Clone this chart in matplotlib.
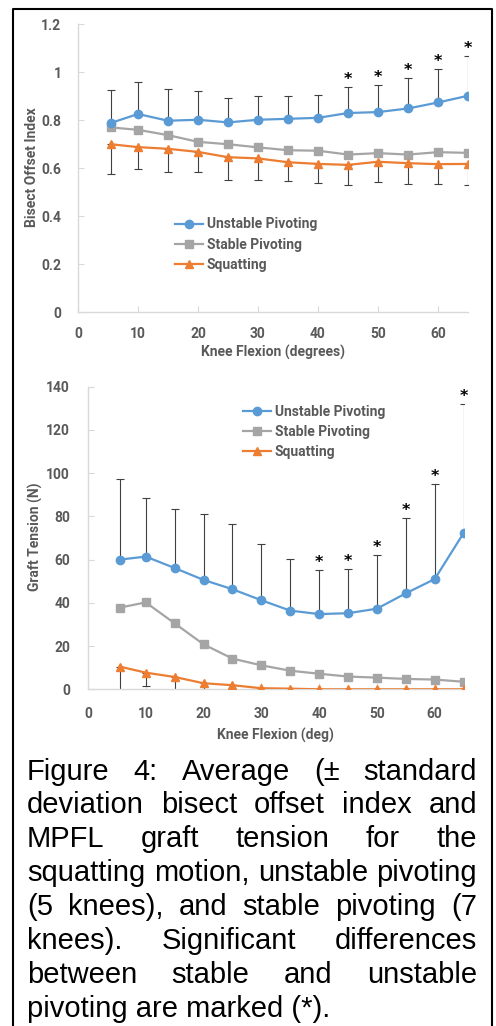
import numpy as np
import matplotlib
matplotlib.use("Agg")
import matplotlib.pyplot as plt

# knee flexion angles (deg)
flexion = [5.5, 10, 15, 20, 25, 30, 35, 40, 45, 50, 55, 60, 65]

# bisect offset index
bo_unstable = [0.788, 0.825, 0.797, 0.801, 0.790, 0.801, 0.805, 0.809, 0.829, 0.833, 0.848, 0.873, 0.901]
bo_unstable_hi = [0.923, 0.957, 0.930, 0.919, 0.890, 0.901, 0.898, 0.905, 0.939, 0.947, 0.976, 1.011, 1.068]
bo_stable = [0.769, 0.759, 0.737, 0.709, 0.699, 0.686, 0.674, 0.672, 0.656, 0.662, 0.656, 0.666, 0.663]
bo_squat = [0.699, 0.687, 0.680, 0.667, 0.645, 0.640, 0.624, 0.617, 0.613, 0.626, 0.620, 0.616, 0.617]
bo_squat_lo = [0.573, 0.597, 0.584, 0.584, 0.548, 0.548, 0.544, 0.537, 0.528, 0.542, 0.535, 0.533, 0.528]
bo_signif = [45, 50, 55, 60, 65]

# graft tension (N)
gt_unstable = [60.0, 61.4, 56.1, 50.6, 46.3, 41.2, 36.4, 34.8, 35.2, 37.3, 44.4, 51.0, 72.3]
gt_unstable_hi = [97.3, 88.7, 83.6, 80.9, 76.3, 67.4, 60.1, 55.0, 55.5, 62.0, 79.1, 94.8, 131.8]
gt_stable = [37.8, 40.2, 30.5, 20.8, 14.2, 11.1, 8.6, 7.2, 5.9, 5.4, 4.8, 4.5, 3.5]
gt_squat = [10.5, 7.7, 5.7, 2.8, 1.9, 0.5, 0.3, 0.0, 0.0, 0.0, 0.0, 0.0, 0.0]
gt_squat_lo = [-3.0, 1.5, -2.0, -1.0, 1.9, 0.5, 0.3, 0.0, 0.0, 0.0, 0.0, 0.0, 0.0]
gt_signif = [40, 45, 50, 55, 60, 65]

labels = ["Unstable Pivoting", "Stable Pivoting", "Squatting"]
caption = ["Figure 4: Average (\u00b1 standard",
           "deviation bisect offset index and",
           "MPFL graft tension for the",
           "squatting motion, unstable pivoting",
           "(5 knees), and stable pivoting (7",
           "knees). Significant differences",
           "between stable and unstable",
           "pivoting are marked (*)."]

BLUE = "#5B9BD5"
GREY = "#A5A5A5"
ORANGE = "#ED7D31"
TXT = "#595959"
AX = "#D9D9D9"
W, H = 496, 1026

plt.rcParams["font.family"] = ["Roboto", "DejaVu Sans"]
fig = plt.figure(figsize=(W / 100, H / 100), dpi=100)


def px_axes(l, r, b, t):
    return fig.add_axes([l / W, 1 - b / H, (r - l) / W, (b - t) / H])


def draw(ax, y_un, y_hi, y_st, y_sq, y_lo, signif, ylim, yticks, xlabel, ylabel):
    x = np.array(flexion)
    y_un = np.array(y_un)
    y_sq = np.array(y_sq)
    ax.errorbar(x, y_un, yerr=[np.zeros_like(y_un), np.array(y_hi) - y_un], fmt="none",
                ecolor="#404040", elinewidth=0.8, capsize=3, capthick=0.8, zorder=2)
    ax.errorbar(x, y_sq, yerr=[y_sq - np.array(y_lo), np.zeros_like(y_sq)], fmt="none",
                ecolor="#404040", elinewidth=0.8, capsize=3, capthick=0.8, zorder=2)
    ax.plot(x, y_un, color=BLUE, lw=1.6, marker="o", ms=6, label=labels[0], zorder=4)
    ax.plot(x, y_st, color=GREY, lw=1.6, marker="s", ms=6, label=labels[1], zorder=3)
    ax.plot(x, y_sq, color=ORANGE, lw=1.6, marker="^", ms=6, label=labels[2], zorder=3)
    for s in signif:
        i = flexion.index(s)
        ax.annotate("*", (s, y_hi[i]), xytext=(0, 0), textcoords="offset points",
                    ha="center", va="bottom", fontsize=11.5, fontweight="bold",
                    color="black", family="DejaVu Sans", annotation_clip=False)
    ax.set_xlim(0, 65)
    ax.set_ylim(*ylim)
    ax.set_xticks(range(0, 70, 10))
    ax.set_yticks(yticks)
    for sp in ["top", "right"]:
        ax.spines[sp].set_visible(False)
    for sp in ["left", "bottom"]:
        ax.spines[sp].set_color(AX)
        ax.spines[sp].set_linewidth(1)
    ax.tick_params(direction="in", length=4, color=AX, labelcolor=TXT, labelsize=10)
    for t in ax.get_xticklabels() + ax.get_yticklabels():
        t.set_fontweight("bold")
    ax.set_xlabel(xlabel, fontsize=10, fontweight="bold", color=TXT)
    ax.set_ylabel(ylabel, fontsize=10, fontweight="bold", color=TXT)
    ax.patch.set_alpha(0)


# top: bisect offset index
ax1 = px_axes(78, 468, 312, 24)
draw(ax1, bo_unstable, bo_unstable_hi, bo_stable, bo_squat, bo_squat_lo, bo_signif,
     (0, 1.2), [0, 0.2, 0.4, 0.6, 0.8, 1, 1.2], "Knee Flexion (degrees)", "Bisect Offset Index")
ax1.set_yticklabels(["0", "0.2", "0.4", "0.6", "0.8", "1", "1.2"], fontweight="bold")
ax1.tick_params(axis="y", pad=12)
ax1.tick_params(axis="x", pad=11)
ax1.xaxis.set_label_coords(0.5, -0.142)
ax1.yaxis.set_label_coords(-0.118, 0.503)
ax1.xaxis.label.set_va("center")
ax1.yaxis.label.set_va("center")
ax1.legend(loc="center left", bbox_to_anchor=(175 / W, 1 - 244.7 / H), bbox_transform=fig.transFigure,
           frameon=False, prop={"weight": "bold", "size": 10}, handlelength=2.0,
           handletextpad=0.3, labelspacing=0.45, borderpad=0, borderaxespad=0)

# bottom: graft tension
ax2 = px_axes(88, 463.6, 689.3, 386.7)
draw(ax2, gt_unstable, gt_unstable_hi, gt_stable, gt_squat, gt_squat_lo, gt_signif,
     (0, 140), range(0, 141, 20), "Knee Flexion (deg)", "Graft Tension (N)")
ax2.tick_params(axis="y", pad=13)
ax2.tick_params(axis="x", pad=13)
ax2.xaxis.set_label_coords(0.5, -0.151)
ax2.yaxis.set_label_coords(-0.141, 0.503)
ax2.xaxis.label.set_va("center")
ax2.yaxis.label.set_va("center")
ax2.legend(loc="center left", bbox_to_anchor=(243 / W, 1 - 432 / H), bbox_transform=fig.transFigure,
           frameon=False, prop={"weight": "bold", "size": 10}, handlelength=2.0,
           handletextpad=0.3, labelspacing=0.45, borderpad=0, borderaxespad=0)
for leg in [ax1.get_legend(), ax2.get_legend()]:
    for t in leg.get_texts():
        t.set_color(TXT)

# border
fig.add_artist(plt.Line2D([13 / W, 13 / W, 492 / W, 492 / W], [0, 1 - 9 / H, 1 - 9 / H, 0],
                          transform=fig.transFigure, color="black", lw=1.5))

# justified caption
renderer = fig.canvas.get_renderer()
left, right = 27, 477
base0, step = 779.5, 33.9
cfont = dict(family="Liberation Sans", size=21, color="black")
for k, line in enumerate(caption):
    yb = 1 - (base0 + k * step) / H
    if k == len(caption) - 1:
        fig.text(left / W, yb, line, ha="left", va="baseline", **cfont)
        continue
    words = line.split(" ")
    texts = [fig.text(0, yb, w, ha="left", va="baseline", **cfont) for w in words]
    widths = [t.get_window_extent(renderer).width for t in texts]
    gap = (right - left - sum(widths)) / (len(words) - 1)
    xpos = left
    for t, wd in zip(texts, widths):
        t.set_x(xpos / W)
        xpos += wd + gap

fig.savefig("out.png", dpi=100)
